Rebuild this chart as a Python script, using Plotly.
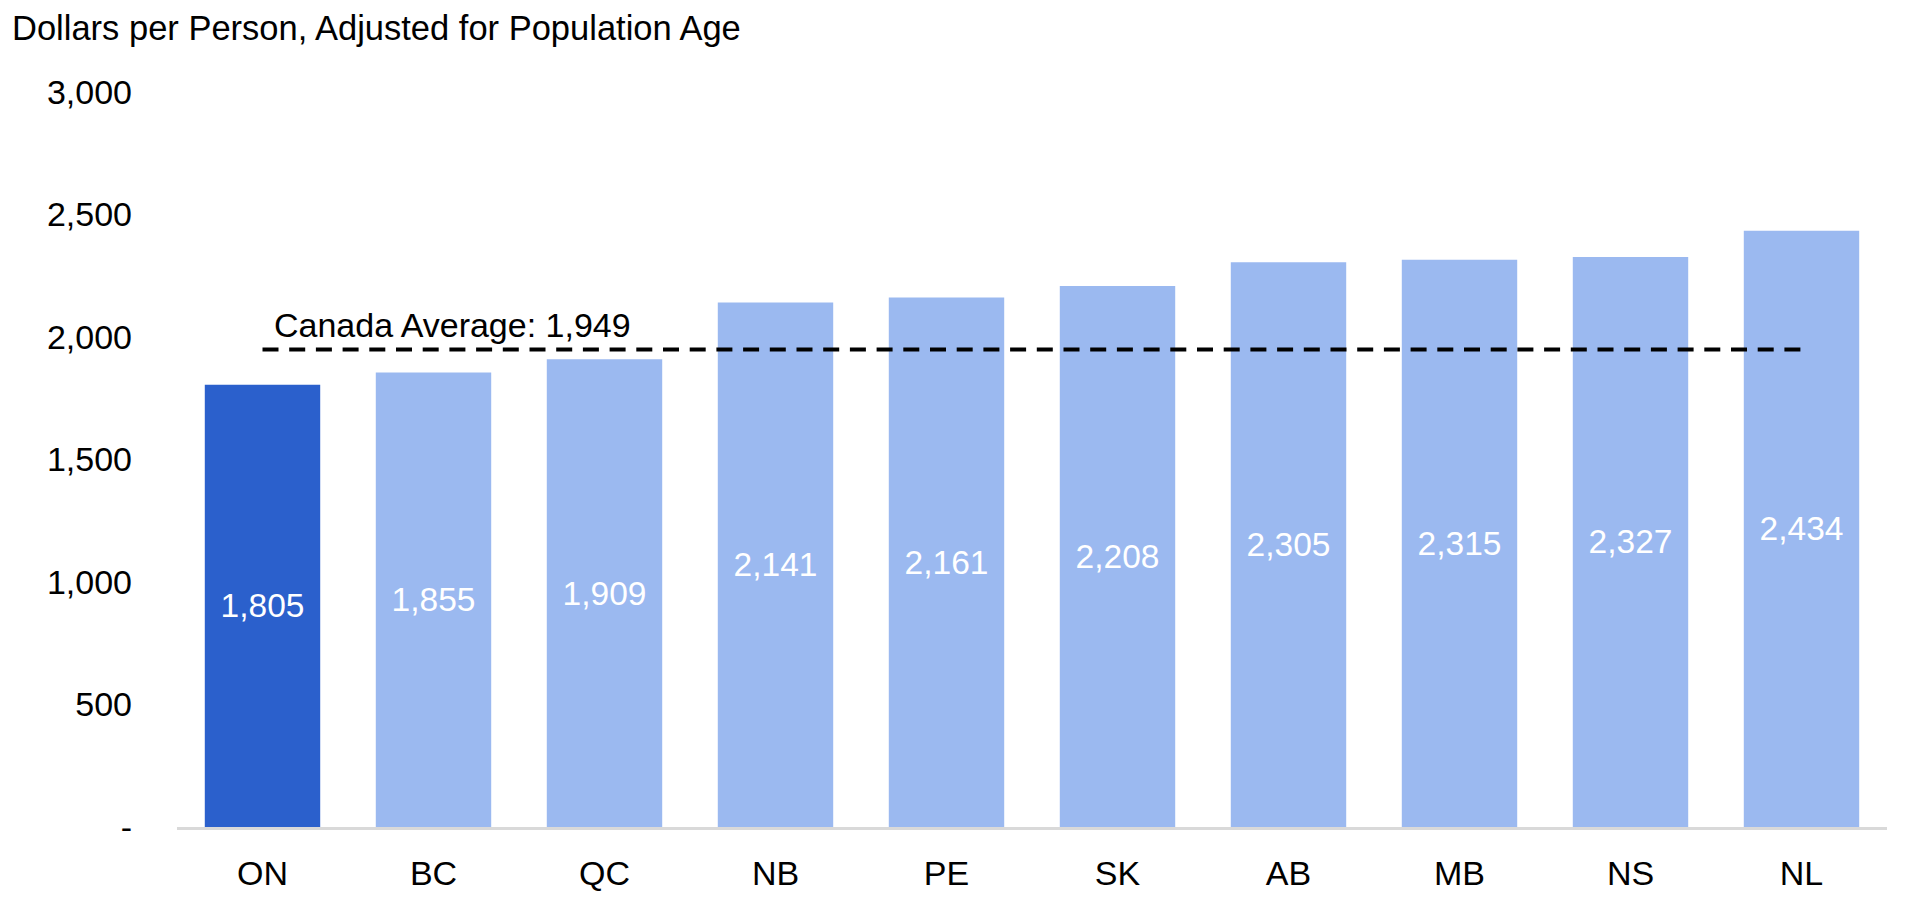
import plotly.graph_objects as go

provinces = ["ON", "BC", "QC", "NB", "PE", "SK", "AB", "MB", "NS", "NL"]
values = [1805, 1855, 1909, 2141, 2161, 2208, 2305, 2315, 2327, 2434]
canada_avg = 1949
highlight = "ON"
y_tickvals = [0, 500, 1000, 1500, 2000, 2500, 3000]
y_ticktext = ["-", "500", "1,000", "1,500", "2,000", "2,500", "3,000"]
title_text = "Dollars per Person, Adjusted for Population Age"
avg_label = f"Canada Average: {canada_avg:,}"

FONT = "Arial, 'Liberation Sans', sans-serif"
DARK = "#2B60CC"
LIGHT = "#9BB9F0"
FS = 34

W, H = 1898, 908  # page body has an 8px default margin

colors = [DARK if p == highlight else LIGHT for p in provinces]

fig = go.Figure()
fig.add_trace(go.Bar(
    x=provinces, y=values,
    marker=dict(color=colors, line=dict(width=0)),
    text=[f"{v:,}" for v in values],
    textposition="inside", insidetextanchor="middle",
    textfont=dict(family=FONT, size=33.5, color="white"),
    textangle=0,
    hoverinfo="skip",
))
fig.add_trace(go.Scatter(
    x=[provinces[0], provinces[-1]], y=[canada_avg, canada_avg],
    mode="lines",
    line=dict(color="black", width=4, dash="16px,10.7px"),
    hoverinfo="skip",
))
fig.add_annotation(
    x=0.056, y=canada_avg, xref="x", yref="y",
    text=avg_label, showarrow=False,
    xanchor="left", yanchor="middle", yshift=25,
    font=dict(family=FONT, size=FS, color="black"),
)

fig.update_layout(
    width=W, height=H,
    paper_bgcolor="white", plot_bgcolor="white",
    showlegend=False,
    bargap=0.325,
    margin=dict(l=169, r=19, t=84, b=89),
    font=dict(family=FONT, size=FS, color="black"),
    title=dict(text=title_text, x=4 / W, xanchor="left",
               y=1 - 20 / H, yanchor="middle", yref="container",
               font=dict(family=FONT, size=34.5, color="black")),
)
fig.update_xaxes(
    type="category", showgrid=False, ticks="",
    showline=True, linecolor="#D9D9D9", linewidth=3,
    tickfont=dict(family=FONT, size=FS, color="black"),
    ticklabelstandoff=14,
    range=[-0.5, len(provinces) - 0.5],
)
fig.update_yaxes(
    range=[0, 3000], tickvals=y_tickvals, ticktext=y_ticktext,
    showgrid=False, zeroline=False, ticks="",
    tickfont=dict(family=FONT, size=FS, color="black"),
    ticklabelstandoff=44,
)

fig.write_html("out.html")
